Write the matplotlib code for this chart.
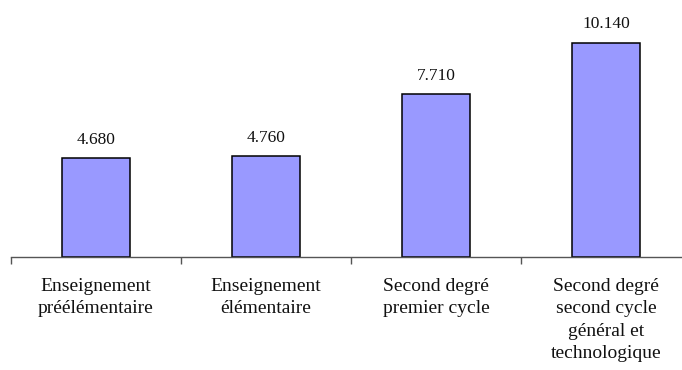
import matplotlib
matplotlib.use("Agg")
import matplotlib.pyplot as plt

categories = ["Enseignement\npréélémentaire", "Enseignement\nélémentaire",
              "Second degré\npremier cycle", "Second degré\nsecond cycle\ngénéral et\ntechnologique"]
values = [4680, 4760, 7710, 10140]
value_labels = ["4.680", "4.760", "7.710", "10.140"]

plt.rcParams['font.family'] = ['Liberation Serif', 'DejaVu Serif']

W, H = 682, 370
fig = plt.figure(figsize=(W/100, H/100), dpi=100)
ax = fig.add_axes([11/W, (H-257)/H, 680/W, 257/H])

x = range(len(values))
ax.bar(x, values, width=0.4, color="#9999FF", edgecolor="black", linewidth=1.1, zorder=2)
ax.set_xlim(-0.5, 3.5)
ax.set_ylim(0, 257/0.02112)

for xi, v, lab in zip(x, values, value_labels):
    ax.annotate(lab, (xi, v), xytext=(0, 7.5), textcoords="offset points",
                ha="center", va="bottom", fontsize=12.5, color="#111111")

for s in ["top", "right", "left"]:
    ax.spines[s].set_visible(False)
ax.spines["bottom"].set_color("#555555")
ax.spines["bottom"].set_linewidth(1.0)
ax.set_yticks([])
ax.set_xticks([-0.5, 0.5, 1.5, 2.5, 3.5])
ax.set_xticklabels([])
ax.tick_params(axis="x", length=5, color="#555555", width=1.0)
for xi, c in zip(x, categories):
    ax.text(xi, -21/257*ax.get_ylim()[1], c, ha="center", va="top",
            fontsize=14, color="#111111", linespacing=1.42)

fig.savefig("out.png", dpi=100)
